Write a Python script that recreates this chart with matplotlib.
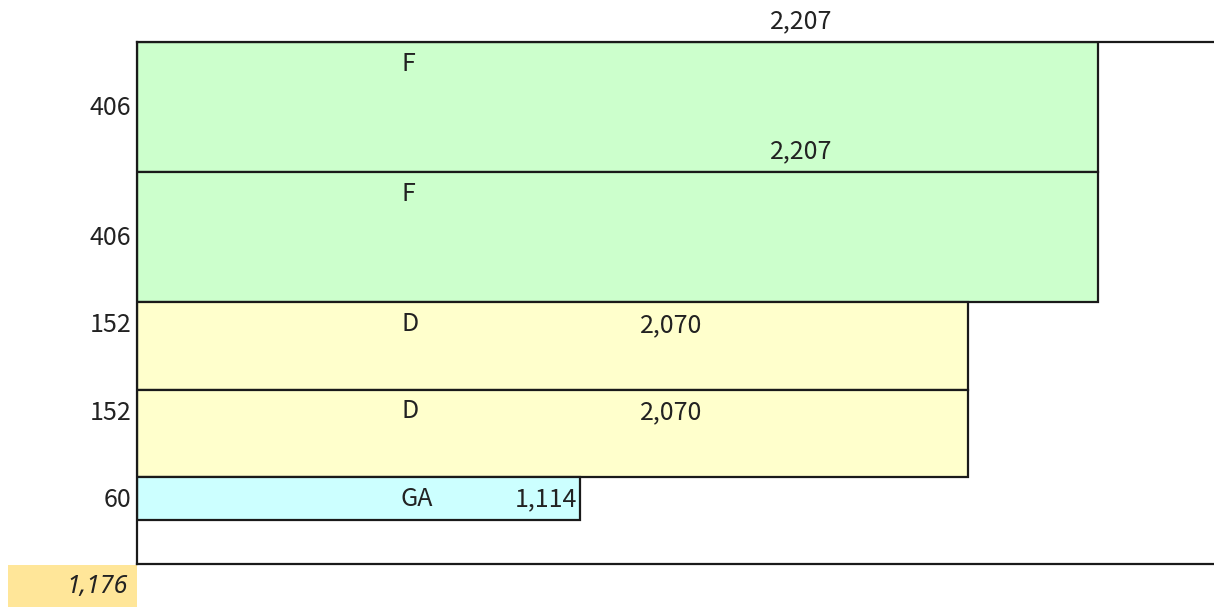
#!/usr/bin/env python3
"""Stacked row rectangles with group labels, counts and amounts."""

import matplotlib

matplotlib.use("Agg")
import matplotlib.pyplot as plt  # noqa: E402
import numpy as np  # noqa: E402
from matplotlib.patches import Rectangle  # noqa: E402

plt.rcParams["font.family"] = ["Noto Sans CJK JP", "DejaVu Sans"]

# data
groups = ["F", "F", "D", "D", "GA"]
counts = [406, 406, 152, 152, 60]
amounts = [2207, 2207, 2070, 2070, 1114]
total = 1176
# drawn extent of each row (chart units)
row_heights = [130, 130, 87.5, 87.5, 43]
bar_lengths = [961, 961, 831, 831, 443]

fills = {"F": "#CCFFCC", "D": "#FFFFCC", "GA": "#CCFFFF"}
edge = "#1a1a1a"
txt = "#222222"
fs = 18

W, H = 1214, 607
fig = plt.figure(figsize=(W / 100, H / 100), dpi=100)
ax = fig.add_axes([137 / W, (H - 564) / H, (W - 137) / W, (564 - 42) / H])
ax.set_xlim(0, W - 137)
ax.set_ylim(564 - 42, 0)

tops = np.concatenate([[0], np.cumsum(row_heights)[:-1]])
ax.barh(tops, bar_lengths, height=row_heights, align="edge",
        color=[fills[g] for g in groups], edgecolor=edge, linewidth=1.6, zorder=2)

for g, c, a, t, h, L in zip(groups, counts, amounts, tops, row_heights, bar_lengths):
    ax.text(264, t + 22, g, ha="left", va="center", fontsize=fs,
            color=txt, zorder=3)
    big = h > 100
    ax.text(-6, t + (h / 2 + 1 if big else 23), f"{c:,}", ha="right", va="center",
            fontsize=fs, color=txt, clip_on=False)
    if big:
        ax.text(L - 297, t - 21, f"{a:,}", ha="center", va="center", fontsize=fs,
                color=txt, clip_on=False, zorder=3)
    elif L - 297 > 350:
        ax.text(L - 297, t + 23, f"{a:,}", ha="center", va="center", fontsize=fs,
                color=txt, zorder=3)
    else:
        ax.text(L - 3, t + 22, f"{a:,}", ha="right", va="center", fontsize=fs,
                color=txt, zorder=3)

# total box under the count column
ax.add_patch(Rectangle((-129, 523), 129, 44, facecolor="#FFE699", edgecolor="none",
                       clip_on=False))
ax.text(-9, 544, f"{total:,}", ha="right", va="center", fontsize=fs, style="italic",
        family=["Noto Sans", "DejaVu Sans"], color=txt, clip_on=False)

for s in ["left", "top", "bottom"]:
    ax.spines[s].set_linewidth(1.6)
    ax.spines[s].set_color(edge)
ax.spines["right"].set_visible(False)
ax.set_xticks([])
ax.set_yticks([])

fig.savefig("out.png", dpi=100)
plt.close(fig)
